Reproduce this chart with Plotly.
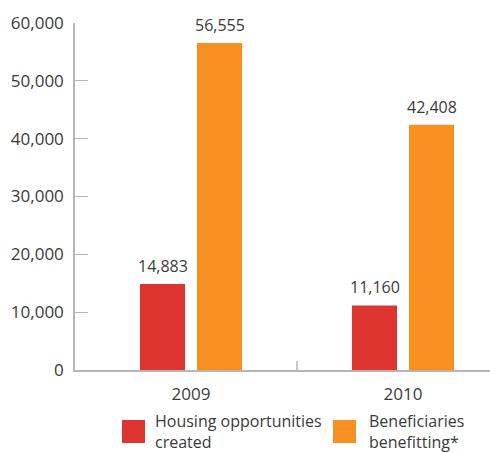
import plotly.graph_objects as go

# Data
years = ["2009", "2010"]
housing_created = [14883, 11160]
beneficiaries = [56555, 42408]
series_names = ["Housing opportunities<br>created", "Beneficiaries<br>benefitting*"]
y_ticks = [0, 10000, 20000, 30000, 40000, 50000, 60000]

RED = "#DE3430"
ORANGE = "#F7901E"
TEXT = "#3a3a3a"
AXIS = "#b5b5b5"
FONT = "Open Sans"

W, H = 490, 453
L, R, T, B = 75, 0, 23, 83
plot_w = W - L - R
plot_h = H - T - B
BAR_SLOT = 28.5  # pixel offset of each bar centre from its group centre


def px_x(x):
    return (x - L) / plot_w


def px_y(y):
    return (H - B - y) / plot_h


fig = go.Figure()
series = [(housing_created, RED, series_names[0], -BAR_SLOT),
          (beneficiaries, ORANGE, series_names[1], BAR_SLOT)]
for vals, color, name, shift in series:
    fig.add_trace(go.Bar(
        x=years, y=vals, name=name.replace("<br>", " "),
        marker_color=color, marker_line_width=0, showlegend=False,
    ))
    # value labels above each bar (x given as category index)
    for idx, v in enumerate(vals):
        fig.add_annotation(x=idx, y=v, xref="x", yref="y", xshift=shift, yshift=5,
                           xanchor="center", yanchor="bottom", showarrow=False,
                           text=f"{v:,}", font=dict(family=FONT, size=16, color=TEXT))

# Legend drawn as squares with two-line labels below the axis
legend_items = [(RED, series_names[0], 122, 153), (ORANGE, series_names[1], 333, 367)]
for color, name, sx, tx in legend_items:
    fig.add_shape(type="rect", xref="paper", yref="paper",
                  x0=px_x(sx), x1=px_x(sx + 23), y0=px_y(443), y1=px_y(420),
                  fillcolor=color, line_width=0)
    fig.add_annotation(xref="paper", yref="paper", x=px_x(tx), y=px_y(431.5),
                       xanchor="left", yanchor="middle", align="left", showarrow=False,
                       text=name, font=dict(family=FONT, size=16, color=TEXT))

# Single tick between the two year groups
tick_h = 9 * 60000 / plot_h
fig.add_shape(type="line", xref="x", yref="y", x0=0.5, x1=0.5, y0=0, y1=tick_h,
              line=dict(color=AXIS, width=1.5))

cat_px = 212
left_units = -(191 - L) / cat_px
fig.update_layout(
    width=W, height=H,
    margin=dict(l=L, r=R, t=T, b=B, pad=0),
    paper_bgcolor="white", plot_bgcolor="white",
    barmode="group", bargap=0.462, bargroupgap=0.21,
    font=dict(family=FONT, color=TEXT),
    xaxis=dict(type="category", range=[left_units, left_units + plot_w / cat_px],
               showline=True, linecolor=AXIS, linewidth=1.5, ticks="",
               tickfont=dict(family=FONT, size=17, color=TEXT),
               ticklabelstandoff=8, showgrid=False, zeroline=False),
    yaxis=dict(range=[0, 60000], tickvals=y_ticks, tickformat=",",
               showline=True, linecolor=AXIS, linewidth=1.5,
               ticks="inside", ticklen=13, tickcolor=AXIS,
               tickfont=dict(family=FONT, size=17, color=TEXT),
               ticklabelstandoff=6, showgrid=False, zeroline=False),
)

fig.write_html("out.html")
